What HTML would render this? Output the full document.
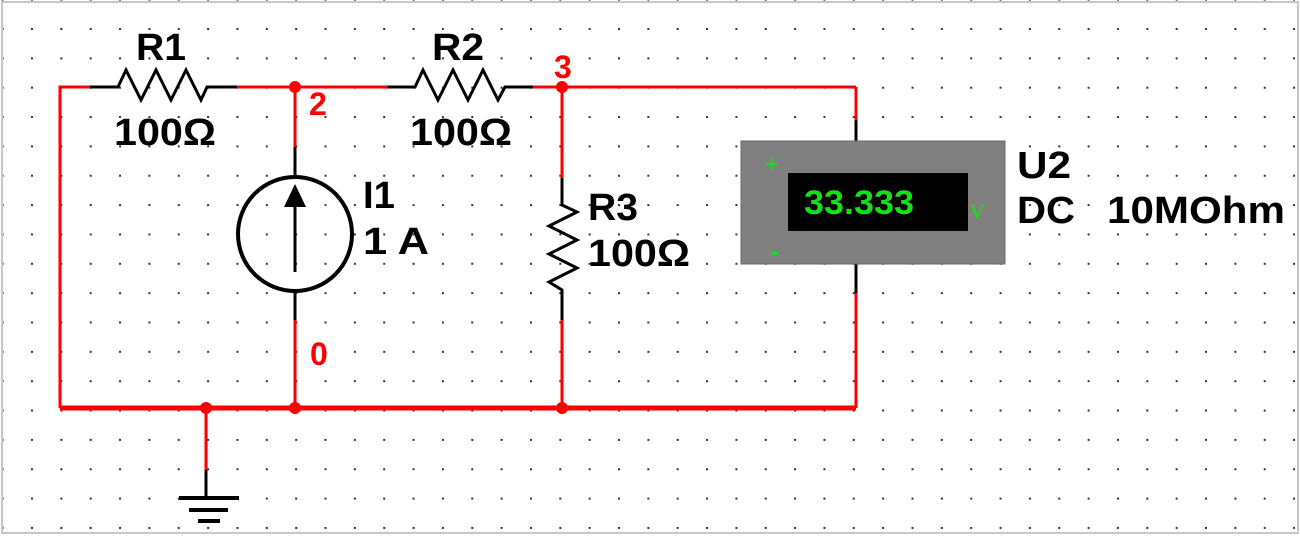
<!DOCTYPE html>
<html><head><style>html,body{margin:0;padding:0;background:#fff}</style></head><body>
<svg width="1300" height="537" viewBox="0 0 1300 537" xmlns="http://www.w3.org/2000/svg" font-family="Liberation Sans, Arial, sans-serif">
<defs>
<pattern id="g" x="31" y="28" width="29.35" height="29.35" patternUnits="userSpaceOnUse">
<rect x="0" y="0" width="2" height="2" fill="#333"/>
</pattern>
</defs>
<rect width="1300" height="537" fill="#fff"/>
<rect x="0" y="0" width="1300" height="537" fill="url(#g)"/>
<rect x="2" y="2" width="1296" height="531" fill="none" stroke="#c8c8c8" stroke-width="2"/>

<g stroke="#f00" stroke-width="3" fill="none">
<polyline points="90,87 60,87 60,408"/>
<line x1="237" y1="87" x2="387" y2="87"/>
<line x1="533" y1="87" x2="856" y2="87"/>
<line x1="856" y1="87" x2="856" y2="120"/>
<line x1="856" y1="293" x2="856" y2="408"/>
<line x1="295" y1="87" x2="295" y2="147"/>
<line x1="295" y1="320" x2="295" y2="408"/>
<line x1="562" y1="87" x2="562" y2="178"/>
<line x1="562" y1="320" x2="562" y2="408"/>
<line x1="206" y1="408" x2="206" y2="470"/>
</g>
<line x1="60" y1="408" x2="856" y2="408" stroke="#f00" stroke-width="5"/>
<g fill="#f00">
<circle cx="295" cy="87" r="6"/><circle cx="562" cy="87" r="6"/>
<circle cx="206" cy="408" r="6"/><circle cx="295" cy="408" r="6"/><circle cx="562" cy="408" r="6"/>
</g>

<g stroke="#000" stroke-width="3" fill="none" stroke-linejoin="miter">
<polyline points="90,87 118,87 126,70 141,100 156,70 171,100 186,70 201,100 207,87 237,87"/>
<polyline points="387,87 415,87 423,70 438,100 453,70 468,100 483,70 498,100 505,87 533,87"/>
<polyline points="562,178 562,205 577,212 549,226 577,240 549,254 577,268 549,282 562,290 562,320"/>
<line x1="295" y1="147" x2="295" y2="176"/>
<line x1="295" y1="292" x2="295" y2="320"/>
<ellipse cx="295" cy="234" rx="57" ry="57" stroke-width="4"/>
<line x1="295" y1="272" x2="295" y2="205"/>
<line x1="206" y1="470" x2="206" y2="497"/>
<line x1="856" y1="120" x2="856" y2="142"/>
<line x1="856" y1="264" x2="856" y2="293"/>
</g>
<polygon points="295,184 284,207 306,207" fill="#000"/>
<g stroke="#000" stroke-width="4">
<line x1="179" y1="498" x2="239" y2="498"/>
<line x1="189" y1="510" x2="228" y2="510"/>
<line x1="198" y1="521" x2="220" y2="521"/>
</g>

<rect x="741" y="141" width="264" height="123" fill="#808080" stroke="#6a6a6a" stroke-width="1"/>
<rect x="788" y="173" width="180" height="58" fill="#000"/>
<text x="804" y="214" font-size="34" font-weight="bold" fill="#18e018" textLength="110" lengthAdjust="spacingAndGlyphs">33.333</text>
<text x="970" y="218" font-size="28" fill="#18e018" font-family="Liberation Serif, serif">v</text>
<text x="764" y="173" font-size="26" fill="#18e018">+</text>
<text x="770" y="260" font-size="26" font-weight="bold" fill="#18e018">-</text>

<g font-size="38" font-weight="bold" fill="#000">
<text x="136" y="60" textLength="50" lengthAdjust="spacingAndGlyphs">R1</text>
<text x="114" y="145" textLength="102" lengthAdjust="spacingAndGlyphs">100Ω</text>
<text x="432" y="60" textLength="52" lengthAdjust="spacingAndGlyphs">R2</text>
<text x="410" y="145" textLength="102" lengthAdjust="spacingAndGlyphs">100Ω</text>
<text x="588" y="220" textLength="50" lengthAdjust="spacingAndGlyphs">R3</text>
<text x="588" y="266" textLength="102" lengthAdjust="spacingAndGlyphs">100Ω</text>
<text x="363" y="208" textLength="32" lengthAdjust="spacingAndGlyphs">I1</text>
<text x="363" y="254" textLength="66" lengthAdjust="spacingAndGlyphs">1 A</text>
<text x="1017" y="178" textLength="54" lengthAdjust="spacingAndGlyphs">U2</text>
<text x="1017" y="223" textLength="58" lengthAdjust="spacingAndGlyphs">DC</text>
<text x="1107" y="223" textLength="178" lengthAdjust="spacingAndGlyphs">10MOhm</text>
</g>
<g font-size="32" font-weight="bold" fill="#f00">
<text x="309" y="115">2</text>
<text x="554" y="78">3</text>
<text x="310" y="365">0</text>
</g>
</svg>
</body></html>
